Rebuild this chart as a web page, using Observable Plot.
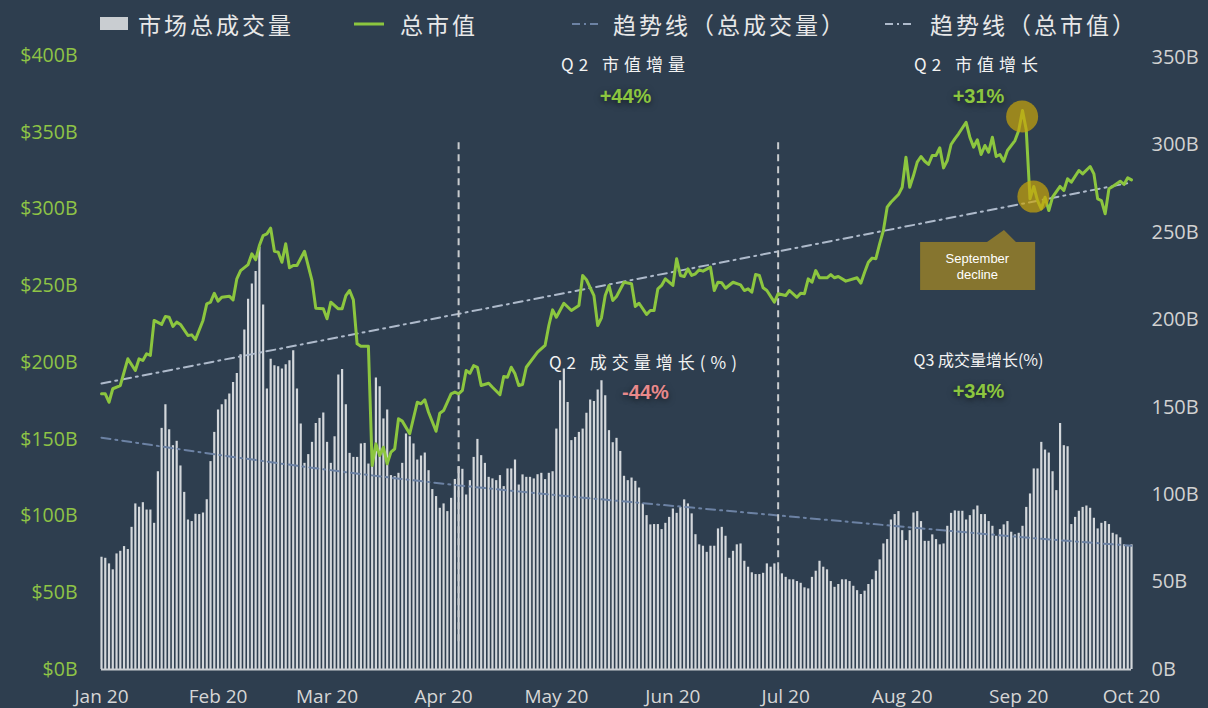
<!DOCTYPE html>
<html>
<head>
<meta charset="utf-8">
<script src="https://cdn.jsdelivr.net/npm/d3@7"></script>
<script src="https://cdn.jsdelivr.net/npm/@observablehq/plot@0.6"></script>
<style>
  html, body { margin: 0; padding: 0; background: #2e3e4f; }
  #wrap { width: 1208px; height: 708px; background: #2e3e4f; position: relative; overflow: hidden; }
  #legend { position: relative; width: 1208px; height: 40px; font-family: "Noto Sans CJK SC", "Noto Sans", sans-serif; color: #e8e8e8; }
  #legend .t { position: absolute; top: 10px; font-size: 23px; line-height: 28px; letter-spacing: 3px; white-space: nowrap; }
  #legend .sym { position: absolute; }
</style>
</head>
<body>
<div id="wrap">
  <div id="legend"></div>
  <div id="chart"></div>
</div>
<script>
// ---------------- data ----------------
const startDate = "2020-01-01";
const monthLabels = ["Jan 20","Feb 20","Mar 20","Apr 20","May 20","Jun 20","Jul 20","Aug 20","Sep 20","Oct 20"];
const monthStarts = ["2020-01-01","2020-02-01","2020-03-01","2020-04-01","2020-05-01","2020-06-01","2020-07-01","2020-08-01","2020-09-01","2020-10-01"];

// daily total market volume (right axis, billions), Jan 1 .. Oct 1 2020
const volumeB = [
  64.2, 63.6, 60.4, 57.0, 66.1, 67.6, 70.3, 68.6, 81.3, 94.7,
  92.8, 95.4, 91.2, 91.2, 83.6, 113.1, 137.9, 151.4, 137.1, 128.0,
  130.5, 116.4, 101.3, 85.5, 84.6, 88.8, 88.6, 89.5, 97.1, 118.9,
  135.6, 148.4, 151.4, 154.3, 157.5, 164.2, 169.3, 180.0, 194.1, 211.8,
  220.4, 227.6, 241.3, 208.4,
  160.4, 177.5, 173.7, 173.1, 171.8, 174.3, 176.6, 182.3, 160.4, 140.4,
  117.9, 122.9, 129.9, 140.7, 143.6, 146.7, 129.9, 117.9, 133.1, 168.4,
  171.6, 151.4, 123.6, 121.3, 121.3, 129.0, 129.3, 117.5, 119.4, 166.7,
  161.7, 143.3, 148.4,
  110.9, 110.3, 112.2, 117.9, 134.7, 133.1, 129.0, 119.8, 122.1, 123.8,
  113.7, 102.9, 98.9, 92.2, 94.7, 90.3, 97.9, 108.7, 116.0, 114.5,
  99.8, 108.0, 121.3, 131.6, 122.3, 117.9, 109.9, 109.0, 108.0, 110.9,
  104.6, 114.7, 114.7, 119.8, 105.5, 111.3, 109.9, 109.9, 109.0, 111.4,
  112.2, 108.6, 112.2, 113.1, 137.5, 165.1, 171.8, 152.7, 130.9, 132.7,
  135.6, 137.5, 146.5, 154.1, 153.3, 159.8, 165.1, 156.6, 136.6, 129.7,
  132.2, 124.7, 110.5, 108.0, 109.5, 107.6, 103.8, 94.7, 88.0, 82.7,
  82.9, 82.9, 80.0, 83.6, 87.0, 91.8, 89.3, 92.7, 97.0, 94.7,
  89.0, 77.1, 71.3, 70.5, 67.0, 70.5, 70.5, 80.4, 81.3, 76.2,
  63.6, 67.6, 71.3, 71.8, 61.9, 58.5, 55.3, 54.3, 54.3, 55.0,
  60.4, 58.5, 60.4, 57.1, 54.7, 52.7, 51.3, 51.3, 50.3, 49.3,
  46.7, 46.1, 52.7, 56.2, 61.9, 58.5, 57.0, 50.3, 47.0, 48.6,
  51.3, 51.3, 50.3, 47.6, 45.1, 42.9, 44.8, 48.6, 51.3, 56.2,
  62.7, 71.8, 74.3, 85.5, 88.6, 90.3, 79.4, 73.7, 79.4, 89.5,
  90.3, 84.6, 73.3, 73.3, 77.0, 74.3, 71.3, 71.8, 81.9, 89.3,
  90.7, 90.5, 90.5, 85.5, 88.0, 91.3, 93.5,
  88.6, 88.6, 84.6, 81.9, 76.2, 80.0, 82.7, 84.6, 78.5, 77.0,
  77.9, 81.9, 92.7, 100.4, 114.7, 114.7, 129.9, 125.5, 123.8, 113.1,
  102.3, 140.7, 128.0, 127.4, 82.9, 87.0, 90.5, 92.7, 93.5, 92.2,
  86.5, 80.4, 83.6, 84.6, 82.9, 77.9, 77.0, 75.3, 71.3, 70.3,
  71.3
];

// total market cap (left axis, $B): day offset from Jan 1 and value
const capDays = [0,1,2,3,5,7,9,10,11,12,13,14,16,17,18,19,20,21,23,24,25,27,28,29,30,31,32,34,35,36,37,39,40,41,42,43,44,45,46,47,48,49,50,51,52,54,56,57,59,60,61,63,64,65,66,67,68,69,71,72,73,74,75,76,77,78,79,80,82,84,85,86,87,89,90,91,93,94,95,96,97,98,99,100,101,103,104,106,107,108,109,110,111,112,113,116,118,119,120,121,123,125,127,128,129,131,132,133,134,135,136,137,139,141,142,143,145,146,147,148,149,150,152,153,154,155,156,157,158,159,160,162,163,164,165,166,168,170,171,172,173,174,175,176,177,179,180,182,183,185,186,187,188,189,190,191,193,194,195,196,198,201,202,203,204,205,206,207,208,209,210,212,213,214,215,216,217,218,219,220,221,222,223,224,225,226,227,228,230,231,232,233,234,235,236,237,238,239,240,241,243,244,245,246,247,248,249,250,251,252,253,255,256,257,258,260,261,263,264,265,266,267,268,269,271,272,273,274];
const capValues = [179.6,179.6,174.1,182.9,185.0,202.4,194.8,202.4,201.3,205.7,204.6,227.4,224.8,230.0,229.5,223.5,226.3,224.8,217.6,218.0,215.0,227.4,238.2,239.3,245.1,240.0,242.5,243.2,240.8,254.5,259.9,263.8,270.8,266.9,276.2,282.7,283.8,287.5,272.5,271.9,265.3,277.3,261.7,263.2,263.2,272.5,253.4,235.4,235.0,228.5,239.3,235.0,235.0,243.6,246.9,240.8,212.2,210.6,210.6,132.9,147.0,139.4,144.8,134.0,141.6,143.8,163.3,161.8,153.6,174.1,173.1,175.7,167.6,155.2,167.0,168.7,179.6,180.7,179.6,181.8,194.8,193.0,198.0,196.9,185.0,186.5,183.9,179.0,190.9,190.4,196.9,192.6,185.0,185.7,196.9,206.7,211.1,224.1,234.3,229.5,238.6,233.9,237.1,256.7,253.9,243.6,224.1,229.1,243.6,250.2,240.4,243.0,252.3,251.3,236.5,238.6,231.3,233.9,233.9,248.0,250.2,254.5,250.2,267.6,256.7,256.0,261.0,256.7,257.8,260.4,259.5,262.1,246.9,252.3,251.9,248.4,252.3,250.6,246.9,248.0,245.8,257.3,256.7,248.7,246.9,239.3,244.8,243.6,246.9,242.5,245.1,244.8,254.5,252.3,259.9,255.2,255.2,257.3,255.2,256.0,253.0,255.2,251.7,258.8,265.3,268.0,267.6,277.3,286.0,301.2,304.4,309.4,314.2,333.7,314.2,321.8,330.5,334.2,331.1,329.0,334.9,334.9,339.9,326.8,331.6,342.0,345.7,349.0,356.5,346.8,340.3,345.1,335.5,341.4,337.0,346.8,334.2,335.5,331.1,338.1,344.6,351.1,364.2,351.6,306.6,314.7,305.5,300.1,307.7,299.0,307.7,314.7,312.1,319.7,317.5,325.1,322.9,327.7,322.9,306.6,305.5,296.9,313.2,314.7,318.1,316.0,320.3,319.0];

// trend lines
const volTrendDays = [0, 77, 157, 234, 274];
const volTrendValues = [132.6, 109.7, 92.6, 77.7, 70.8];      // right axis units
const capTrendDays = [0, 274];
const capTrendValues = [186.3, 317.3];                           // left axis units

// quarter markers
const markerDays = [95, 180];

// axis ticks
const leftTicks = [0, 50, 100, 150, 200, 250, 300, 350, 400];
const rightTicks = [0, 50, 100, 150, 200, 250, 300, 350];

// annotations (day offset, left-axis value)
const headLabels = [
  {day: 139.4, v: 393.5, text: "Q2 市值增量"},
  {day: 233.3, v: 393.5, text: "Q2 市值增长"},
  {day: 144.7, v: 199.3, text: "Q2 成交量增长(%)"}
];
const smallLabels = [{day: 233.3, v: 201.3, text: "Q3 成交量增长(%)"}];
const pctLabels = [
  {day: 139.4, v: 373.3, text: "+44%", color: "#8cc63f"},
  {day: 233.3, v: 373.3, text: "+31%", color: "#8cc63f"},
  {day: 144.7, v: 180.5, text: "-44%", color: "#e8898b"},
  {day: 233.3, v: 181.1, text: "+34%", color: "#8cc63f"}
];
const highlightDays = [244.9, 247.9];
const highlightValues = [360.3, 308.1];
const calloutBox = {day1: 217.9, day2: 248.5, v1: 246.9, v2: 278.2};
const calloutPointer = [{day: 235.7, v: 278.2}, {day: 240.2, v: 286.0}, {day: 243.4, v: 278.2}];
const calloutText = [{day: 233.0, v: 267.5, text: "September"}, {day: 233.0, v: 257.3, text: "decline"}];

// ---------------- build ----------------
const DAY = 864e5;
const t0 = Date.parse(startDate + "T00:00:00Z");
const toDate = d => new Date(t0 + d * DAY);
const K = (400 * 612 / 614) / 350;   // right-axis unit -> left-axis unit

const GREEN = "#8cc63f";
const bars = volumeB.map((v, i) => ({date: toDate(i), v: v * K}));
const cap = capDays.map((d, i) => ({date: toDate(d), v: capValues[i]}));
const volTrend = volTrendDays.map((d, i) => ({date: toDate(d), v: volTrendValues[i] * K}));
const capTrend = capTrendDays.map((d, i) => ({date: toDate(d), v: capTrendValues[i]}));
const markers = markerDays.map(d => ({date: toDate(d)}));
const months = monthStarts.map(s => new Date(s + "T00:00:00Z"));
const highlights = highlightDays.map((d, i) => ({date: toDate(d), v: highlightValues[i]}));
const withDate = arr => arr.map(a => ({...a, date: toDate(a.day)}));

const chart = Plot.plot({
  width: 1208,
  height: 668,
  marginLeft: 101,
  marginRight: 77,
  marginTop: 15,
  marginBottom: 39,
  style: {background: "#2e3e4f", fontFamily: "'Open Sans', 'Noto Sans', sans-serif", color: "#d6d6d6"},
  x: {type: "utc", domain: [toDate(0), toDate(274)], label: null},
  y: {domain: [0, 400], label: null},
  marks: [
    Plot.ruleX(bars, {x: "date", y1: 0, y2: "v", stroke: "#d3d7db", strokeWidth: 2.2}),
    Plot.ruleY([0], {stroke: "#c9cdd1", strokeWidth: 2}),
    Plot.line(volTrend, {x: "date", y: "v", stroke: "#6c82a4", strokeWidth: 2, strokeDasharray: "9,5,2,5", curve: "natural"}),
    Plot.line(capTrend, {x: "date", y: "v", stroke: "#aebacb", strokeWidth: 2, strokeDasharray: "9,5,2,5"}),
    Plot.ruleX(markers, {x: "date", y1: 18, y2: 344, stroke: "#c8cbce", strokeWidth: 2, strokeDasharray: "7,5"}),
    Plot.line(cap, {x: "date", y: "v", stroke: GREEN, strokeWidth: 3, strokeLinejoin: "round"}),
    Plot.dot(highlights, {x: "date", y: "v", r: 16, fill: "#c9a50a", fillOpacity: 0.7, stroke: "none"}),
    Plot.rect([calloutBox], {x1: d => toDate(d.day1), x2: d => toDate(d.day2), y1: "v1", y2: "v2", fill: "#86752f"}),
    Plot.areaY(withDate(calloutPointer), {x: "date", y1: calloutBox.v2, y2: "v", fill: "#86752f"}),
    Plot.text(withDate(calloutText), {x: "date", y: "v", text: "text", fill: "#ffffff", fontSize: 13, fontFamily: "'Liberation Sans', Arial, sans-serif"}),
    Plot.text(withDate(headLabels), {x: "date", y: "v", text: "text", fill: "#f2f2f2", fontSize: 17, fontFamily: "'Noto Sans CJK SC', sans-serif"}),
    Plot.text(withDate(smallLabels), {x: "date", y: "v", text: "text", fill: "#f2f2f2", fontSize: 16, fontFamily: "'Noto Sans CJK SC', sans-serif"}),
    Plot.text(withDate(pctLabels), {x: "date", y: "v", text: "text", fill: d => d.color, fontSize: 20, fontWeight: "bold", fontFamily: "'Liberation Sans', Arial, sans-serif"}),
    Plot.axisY({ticks: leftTicks, tickFormat: d => `$${d}B`, tickSize: 0, tickPadding: 24, fontSize: 19.5, color: "#8fc446"}),
    Plot.axisY({anchor: "right", ticks: rightTicks.map(v => v * K), tickFormat: d => `${Math.round(d / K)}B`, tickSize: 0, tickPadding: 20, fontSize: 20, color: "#d2d2d2"}),
    Plot.axisX({ticks: months, tickFormat: d => monthLabels[months.findIndex(m => +m === +d)], tickSize: 0, tickPadding: 20, fontSize: 19, color: "#d6d6d6"})
  ]
});
document.getElementById("chart").appendChild(chart);

// text styling tweaks
d3.select(chart).selectAll("text").each(function() {
  const t = this.textContent;
  if (t.startsWith("Q2")) this.style.letterSpacing = "5px";
  if (/^[+-]\d+%$/.test(t)) this.style.textShadow = "0 2px 6px rgba(0,0,0,0.55)";
});

// ---------------- legend ----------------
const legendItems = [
  {label: "市场总成交量", kind: "rect", symX: 100, textX: 138},
  {label: "总市值", kind: "line", symX: 354, textX: 400},
  {label: "趋势线（总成交量）", kind: "dash", color: "#6c82a4", symX: 572, textX: 613},
  {label: "趋势线（总市值）", kind: "dash", color: "#aebacb", symX: 885, textX: 930}
];
const legend = d3.select("#legend");
for (const it of legendItems) {
  if (it.kind === "rect") {
    legend.append("div").attr("class", "sym")
      .style("left", it.symX + "px").style("top", "17px").style("width", "28px").style("height", "13px")
      .style("background", "#c9cdd1");
  } else {
    const s = legend.append("svg").attr("class", "sym").attr("width", 30).attr("height", 6)
      .style("left", it.symX + "px").style("top", "21px");
    s.append("line").attr("x1", 0).attr("x2", it.kind === "line" ? 30 : 26).attr("y1", 3).attr("y2", 3)
      .attr("stroke", it.kind === "line" ? GREEN : it.color).attr("stroke-width", it.kind === "line" ? 3 : 2)
      .attr("stroke-dasharray", it.kind === "line" ? null : "8,4,2,4");
  }
  legend.append("div").attr("class", "t").style("left", it.textX + "px").text(it.label);
}
</script>
</body>
</html>
